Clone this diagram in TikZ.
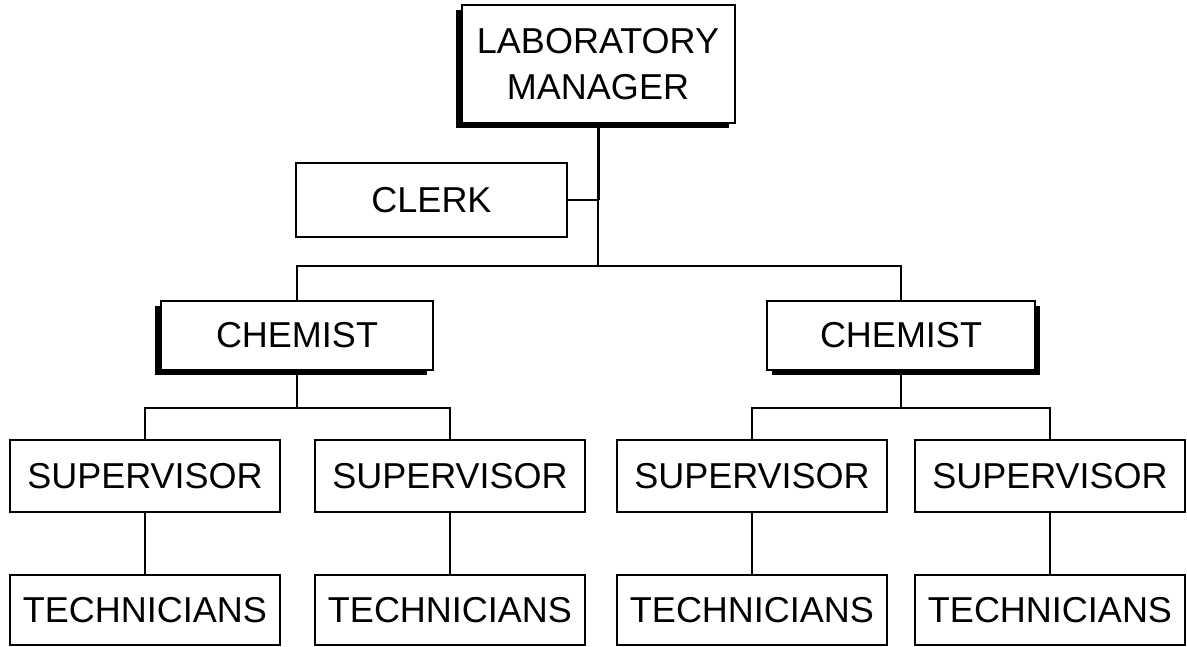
\documentclass[tikz,border=0pt]{standalone}
\usepackage{fontspec}
\setmainfont{Liberation Sans}
\usetikzlibrary{shadows}
\begin{document}
\begin{tikzpicture}[x=1pt,y=-1pt,
  box/.style={draw=black,line width=2pt,fill=white,rectangle,inner sep=0pt,
    font=\fontsize{36}{46}\selectfont,align=center},
  shL/.style={drop shadow={shadow xshift=-6pt,shadow yshift=-5pt,fill=black,opacity=1}},
  shR/.style={drop shadow={shadow xshift=5pt,shadow yshift=-5pt,fill=black,opacity=1}},
  conn/.style={draw=black,line width=2pt},
  thickconn/.style={draw=black,line width=3pt}]
\useasboundingbox (0,0) rectangle (1187,647);
% nodes
\node[box,shL,minimum width=273pt,minimum height=118pt] (mgr) at (598,64) {LABORATORY\\MANAGER};
\node[box,minimum width=271pt,minimum height=74pt] (clerk) at (431.5,200) {CLERK};
\node[box,shL,minimum width=272pt,minimum height=69pt] (chem1) at (297,335.5) {CHEMIST};
\node[box,shR,minimum width=268pt,minimum height=69pt] (chem2) at (901,335.5) {CHEMIST};
\foreach \i/\x in {1/145,2/450,3/752,4/1050}{
  \node[box,minimum width=270pt,minimum height=72pt] (sup\i) at (\x,476) {SUPERVISOR};
  \node[box,minimum width=270pt,minimum height=70pt] (tech\i) at (\x,610) {TECHNICIANS};
}
% connectors
\coordinate (j1) at (mgr.south |- clerk.east);
\coordinate (b1) at (598,266);
\coordinate (b2) at (297,408);
\coordinate (b3) at (901,408);
\draw[thickconn] (mgr.south) -- (j1);
\draw[conn] (clerk.east) -- (j1);
\draw[conn] (j1) -- (b1);
\draw[conn] (b1) -| (chem1.north);
\draw[conn] (b1) -| (chem2.north);
\draw[conn] (chem1.south) -- (b2);
\draw[conn] (b2) -| (sup1.north);
\draw[conn] (b2) -| (sup2.north);
\draw[conn] (chem2.south) -- (b3);
\draw[conn] (b3) -| (sup3.north);
\draw[conn] (b3) -| (sup4.north);
\foreach \i in {1,2,3,4}{
  \draw[conn] (sup\i.south) -- (tech\i.north);
}
\end{tikzpicture}
\end{document}
